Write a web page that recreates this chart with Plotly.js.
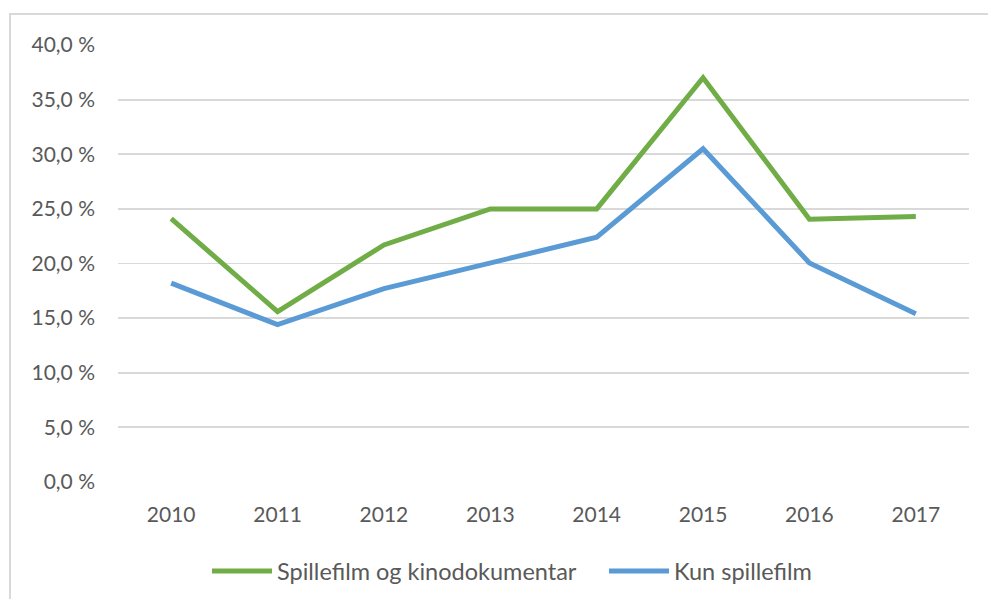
<!DOCTYPE html>
<html>
<head>
<meta charset="utf-8">
<script src="https://cdn.plot.ly/plotly-3.0.1.min.js"></script>
<style>
html, body { margin: 0; padding: 0; background: #fff; overflow: hidden; }
#frame { position: absolute; left: 9px; top: 13px; width: 1100px; height: 700px; border: 2px solid #d9d9d9; box-sizing: border-box; pointer-events: none; }
#chart { position: absolute; left: 0; top: 0; width: 988px; height: 599px; }
</style>
</head>
<body>
<div id="chart"></div>
<div id="frame"></div>
<script>
const years = ['2010', '2011', '2012', '2013', '2014', '2015', '2016', '2017'];
const spillefilmOgKino = [24.1, 15.6, 21.7, 25.0, 25.0, 37.0, 24.05, 24.3];
const kunSpillefilm = [18.2, 14.4, 17.7, 20.0, 22.4, 30.5, 20.05, 15.4];
const yTicks = [0, 5, 10, 15, 20, 25, 30, 35, 40];
const yTickText = yTicks.map(v => v.toFixed(1).replace('.', ',') + ' %');
const seriesNames = ['Spillefilm og kinodokumentar', 'Kun spillefilm'];

const fontFam = 'Lato, "Open Sans", sans-serif';
const traces = [
  { x: years, y: spillefilmOgKino, name: seriesNames[0], type: 'scatter', mode: 'lines',
    line: { color: '#70ad47', width: 5 }, legend: 'legend' },
  { x: years, y: kunSpillefilm, name: seriesNames[1], type: 'scatter', mode: 'lines',
    line: { color: '#5b9bd5', width: 5 }, legend: 'legend2' }
];
const legendCommon = { orientation: 'h', xanchor: 'left', y: -0.204, yanchor: 'middle',
  font: { size: 23.5, color: '#595959' }, itemwidth: 60, bgcolor: 'rgba(0,0,0,0)' };
const layout = {
  width: 988, height: 599,
  margin: { l: 118, r: 19, t: 45, b: 117, autoexpand: false },
  paper_bgcolor: 'rgba(0,0,0,0)', plot_bgcolor: '#fff',
  font: { family: fontFam, size: 21, color: '#595959' },
  xaxis: { type: 'category', range: [-0.5, 7.5], showgrid: false, zeroline: false, automargin: false,
    showline: false, ticks: '', ticklabelstandoff: 18, tickfont: { size: 21, color: '#595959' }, fixedrange: true },
  yaxis: { range: [0, 40], tickvals: yTicks, ticktext: yTickText, automargin: false,
    showgrid: true, gridcolor: '#d9d9d9', gridwidth: 1.8, zeroline: false, showline: false,
    ticks: '', ticklabelstandoff: 22, tickfont: { size: 21, color: '#595959' }, fixedrange: true },
  showlegend: true,
  legend: Object.assign({}, legendCommon, { x: 0.1046 }),
  legend2: Object.assign({}, legendCommon, { x: 0.5711 })
};
Plotly.newPlot('chart', traces, layout, { displayModeBar: false, staticPlot: true });
</script>
</body>
</html>
